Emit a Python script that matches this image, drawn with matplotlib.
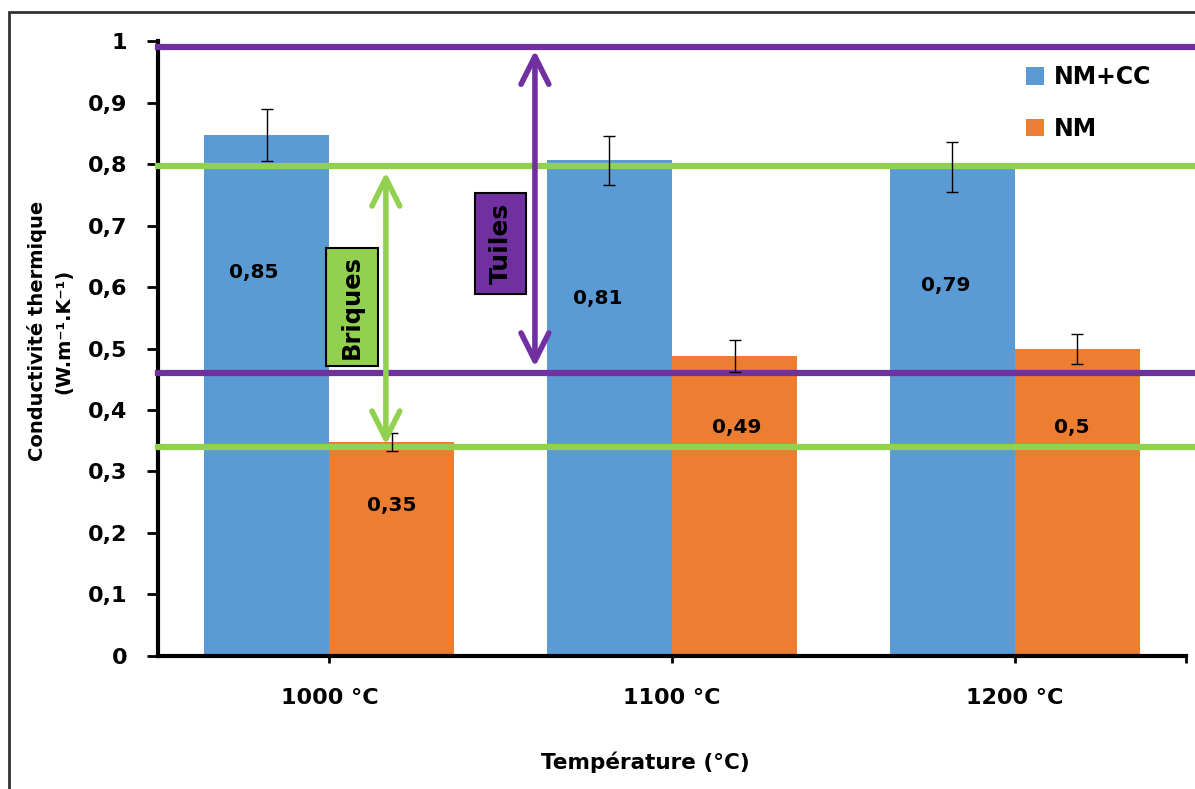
import numpy as np
import matplotlib.pyplot as plt
from matplotlib.patches import Rectangle

# data
temps = ['1000°C', '1100°C', '1200°C']
nm_cc = [0.847, 0.806, 0.795]
nm = [0.348, 0.488, 0.499]
err_nm_cc = [0.042, 0.040, 0.040]
err_nm = [0.015, 0.026, 0.025]
lbl_nm_cc = ['0,85', '0,81', '0,79']
lbl_nm = ['0,35', '0,49', '0,5']
lbl_y_nm_cc = [0.624, 0.582, 0.602]
lbl_y_nm = [0.244, 0.371, 0.371]
lbl_dx_nm_cc = [-0.038, -0.035, -0.018]
lbl_dx_nm = [0.0, 0.005, -0.015]

# reference ranges (briques / tuiles)
briques = [0.34, 0.797]
tuiles = [0.46, 0.99]

blue = '#5B9BD5'
orange = '#ED7D31'
green = '#92D050'
purple = '#7030A0'

plt.rcParams['font.family'] = 'DejaVu Sans'
plt.rcParams['font.weight'] = 'bold'

fig = plt.figure(figsize=(11.95, 7.89), dpi=100)
ax = fig.add_axes([0.1322, 0.1686, 0.8603, 0.7794])

x = np.arange(len(temps))
w = 0.365
b1 = ax.bar(x - w / 2, nm_cc, w, color=blue, label='NM+CC', zorder=2)
b2 = ax.bar(x + w / 2, nm, w, color=orange, label='NM', zorder=2)

# horizontal limits, running a bit past the axis on the right
for v in briques:
    ax.axhline(v, xmin=0, xmax=1.01, color=green, lw=4.5, clip_on=False, zorder=3)
for v in tuiles:
    ax.axhline(v, xmin=0, xmax=1.01, color=purple, lw=4.5, clip_on=False, zorder=3)

ax.errorbar(x - w / 2, nm_cc, yerr=err_nm_cc, fmt='none', ecolor='black',
            elinewidth=1, capsize=4, capthick=1, zorder=4)
ax.errorbar(x + w / 2, nm, yerr=err_nm, fmt='none', ecolor='black',
            elinewidth=1, capsize=4, capthick=1, zorder=4)

for i in range(len(temps)):
    ax.text(x[i] - w / 2 + lbl_dx_nm_cc[i], lbl_y_nm_cc[i], lbl_nm_cc[i],
            ha='center', va='center', fontsize=14.5, fontweight='bold', zorder=5)
    ax.text(x[i] + w / 2 + lbl_dx_nm[i], lbl_y_nm[i], lbl_nm[i],
            ha='center', va='center', fontsize=14.5, fontweight='bold', zorder=5)

# double arrows
ax.annotate('', xy=(0.165, 0.343), xytext=(0.165, 0.787),
            arrowprops=dict(arrowstyle='<->,head_length=1.0,head_width=0.5',
                            color=green, lw=4, shrinkA=0, shrinkB=0,
                            mutation_scale=20), zorder=5)
ax.annotate('', xy=(0.60, 0.47), xytext=(0.60, 0.985),
            arrowprops=dict(arrowstyle='<->,head_length=1.0,head_width=0.5',
                            color=purple, lw=4, shrinkA=0, shrinkB=0,
                            mutation_scale=20), zorder=5)

# boxes with labels
ax.add_patch(Rectangle((-0.0098, 0.4715), 0.152, 0.1915, facecolor=green,
                       edgecolor='black', lw=1.5, zorder=6))
ax.text(0.066, 0.567, 'Briques', rotation=90, ha='center', va='center',
        fontsize=17.5, fontweight='bold', zorder=7)
ax.add_patch(Rectangle((0.425, 0.589), 0.149, 0.164, facecolor=purple,
                       edgecolor='black', lw=1.5, zorder=6))
ax.text(0.50, 0.671, 'Tuiles', rotation=90, ha='center', va='center',
        fontsize=18, fontweight='bold', zorder=7)

ax.set_xlim(-0.5, 2.5)
ax.set_ylim(0, 1)
ax.set_yticks(np.arange(0, 1.01, 0.1))
ax.set_yticklabels(['0'] + ['0,%d' % i for i in range(1, 10)] + ['1'])
ax.set_xticks([0, 1, 2, 2.5])
ax.set_xticklabels(['1000 °C', '1100 °C', '1200 °C', ''])

ax.spines['top'].set_visible(False)
ax.spines['right'].set_visible(False)
ax.spines['left'].set_linewidth(3)
ax.spines['bottom'].set_linewidth(3)
ax.tick_params(axis='y', length=8, width=2, labelsize=16, pad=14)
ax.tick_params(axis='x', length=5, width=2, labelsize=16, pad=18)
for t in ax.get_xticklabels() + ax.get_yticklabels():
    t.set_fontweight('bold')

ax.set_xlabel('Température (°C)', fontsize=15.5, fontweight='bold', labelpad=30)
ax.xaxis.set_label_coords(0.474, -0.155)
fig.text(50 / 1195, 1 - 331 / 789,
         'Conductivité thermique\n(W.m⁻¹.K⁻¹)', rotation=90, ha='center',
         va='center', fontsize=14, fontweight='bold', linespacing=1.5)

ax.legend(handles=[b1, b2], loc='upper left', bbox_to_anchor=(0.824, 0.995),
          frameon=False, handlelength=0.75, handleheight=0.75,
          handletextpad=0.4, labelspacing=1.15,
          prop={'weight': 'bold', 'size': 17})

# outer frame of the original chart
fig.patches.append(Rectangle((9 / 1195, -0.05), 1.1, 1 - 12 / 789 + 0.05,
                             transform=fig.transFigure, fill=False,
                             edgecolor='#333333', lw=2, zorder=0))

fig.savefig('out.png', dpi=100)
